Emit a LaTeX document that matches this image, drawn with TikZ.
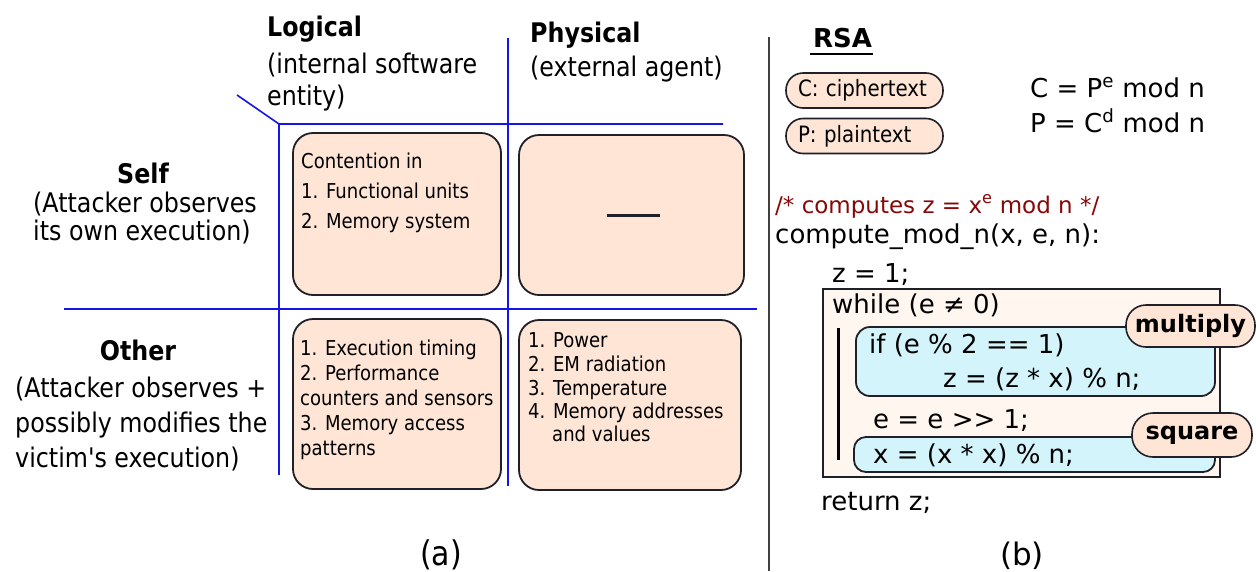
\documentclass[tikz,border=0pt]{standalone}
\usepackage{fontspec}
\setmainfont{DejaVu Sans}
\newfontfamily\dvsans{DejaVu Sans}
\newfontfamily\narrowsans{DejaVu Sans}[FakeStretch=0.88]
\definecolor{gridblue}{RGB}{20,20,235}
\definecolor{peach}{RGB}{254,229,214}
\definecolor{paleskin}{RGB}{255,246,240}
\definecolor{icecyan}{RGB}{212,244,252}
\definecolor{inkline}{RGB}{32,32,40}
\definecolor{commentred}{RGB}{135,8,8}
\tikzset{
  fsz/.style={font=\dvsans\fontsize{#1}{#1}\selectfont},
  bfsz/.style={font=\dvsans\bfseries\fontsize{#1}{#1}\selectfont},
  nsz/.style={font=\narrowsans\fontsize{#1}{#1}\selectfont},
  bnsz/.style={font=\narrowsans\bfseries\fontsize{#1}{#1}\selectfont},
  ln/.style={anchor=base west, inner sep=0pt},
  lnc/.style={anchor=base, inner sep=0pt},
  gridline/.style={draw=gridblue, line width=1.6pt},
  cell/.style={draw=inkline, fill=peach, line width=1.8pt, rounded corners=20pt, inner sep=0pt},
  tag/.style={draw=inkline, fill=peach, line width=1.6pt, rounded corners=17pt,
              text width=133pt, inner xsep=12pt, inner ysep=0pt, minimum height=35pt, align=left, nsz=22.5},
  badge/.style={draw=inkline, fill=peach, line width=1.6pt, rounded corners=20pt,
                inner sep=0pt, bfsz=24},
  codebox/.style={draw=inkline, fill=icecyan, line width=1.8pt, rounded corners=14pt, inner sep=0pt},
}
\begin{document}
\begin{tikzpicture}[x=1pt,y=-1pt]
\useasboundingbox (0,0) rectangle (1256,571);

% ---------- (a): classification grid ----------
\coordinate (gc) at (279,124);
\coordinate (gd) at (237,95);
\coordinate (gtr) at (723,124);
\coordinate (gbl) at (279,475);
\coordinate (mt) at (508,38);
\coordinate (mb) at (508,486);
\coordinate (hl) at (64,309);
\coordinate (hr) at (757,309);
\draw[gridline] (gd) -- (gc) -- (gtr);
\draw[gridline] (gc) -- (gbl);
\draw[gridline] (mt) -- (mb);
\draw[gridline] (hl) -- (hr);

% column headings
\node[ln,bnsz=27] (logical) at (267,36) {Logical};
\node[ln,nsz=27] (logical2) at (267,73) {(internal software};
\node[ln,nsz=27] (logical3) at (267,105) {entity)};
\node[ln,bnsz=27] (physical) at (530,42) {Physical};
\node[ln,nsz=27] (physical2) at (530,76) {(external agent)};

% row headings
\node[lnc,bnsz=27] (self) at (143,183) {Self};
\node[ln,nsz=27] (self2) at (33,212) {(Attacker observes};
\node[ln,nsz=27] (self3) at (33,240) {its own execution)};
\node[lnc,bnsz=27] (other) at (138,360) {Other};
\node[ln,nsz=27] (other2) at (15,397) {(Attacker observes +};
\node[ln,nsz=27] (other3) at (15,432) {possibly modifies the};
\node[ln,nsz=27] (other4) at (15,467) {victim's execution)};

% cells
\node[cell, minimum width=208pt, minimum height=162pt] (c11) at (397,214) {};
\node[cell, minimum width=225pt, minimum height=160pt] (c12) at (631.5,215) {};
\node[cell, minimum width=208pt, minimum height=170pt] (c21) at (397,404) {};
\node[cell, minimum width=222pt, minimum height=170pt] (c22) at (630,405) {};

\node[ln,nsz=20.5] (c11a) at (301,168) {Contention in};
\node[ln,nsz=20.5] (c11b) at (301,198) {1. Functional units};
\node[ln,nsz=20.5] (c11c) at (301,228) {2. Memory system};

\coordinate (dashl) at (607,215);
\coordinate (dashr) at (660,215);
\draw[inkline, line width=3pt] (dashl) -- (dashr);

\node[ln,nsz=20.5] (c21a) at (300,355) {1. Execution timing};
\node[ln,nsz=20.5] (c21b) at (300,380) {2. Performance};
\node[ln,nsz=20.5] (c21c) at (300,405) {counters and sensors};
\node[ln,nsz=20.5] (c21d) at (300,430) {3. Memory access};
\node[ln,nsz=20.5] (c21e) at (300,455) {patterns};

\node[ln,nsz=20.5] (c22a) at (528,347) {1. Power};
\node[ln,nsz=20.5] (c22b) at (528,371) {2. EM radiation};
\node[ln,nsz=20.5] (c22c) at (528,395) {3. Temperature};
\node[ln,nsz=20.5] (c22d) at (528,418) {4. Memory addresses};
\node[ln,nsz=20.5] (c22e) at (552,441) {and values};

\node[lnc,nsz=34] (capa) at (441,565) {(a)};

% ---------- separator ----------
\coordinate (sept) at (769,37);
\coordinate (sepb) at (769,571);
\draw[black!75, line width=1.5pt] (sept) -- (sepb);

% ---------- (b): RSA modular exponentiation ----------
\node[ln,bfsz=26] (rsa) at (813,47) {RSA};
\draw[black, line width=1.5pt] ([xshift=-3pt,yshift=-7pt]rsa.base west) -- ([xshift=1pt,yshift=-7pt]rsa.base east);

\node[tag] (ctag) at (864.5,90.5) {C: ciphertext};
\node[tag] (ptag) at (864.5,136) {P: plaintext};

\node[ln,fsz=26] (enc) at (1030,97) {C = P\textsuperscript{e} mod n};
\node[ln,fsz=26] (dec) at (1030,132) {P = C\textsuperscript{d} mod n};

\node[ln,fsz=23,text=commentred] (cmt) at (775,213) {/* computes z = x\textsuperscript{e} mod n */};
\node[ln,fsz=26] (fn) at (775,243) {compute\_mod\_n(x, e, n):};
\node[ln,fsz=26] (init) at (832,282) {z = 1;};

\node[draw=inkline, fill=paleskin, line width=1.6pt, minimum width=397pt, minimum height=188pt, inner sep=0pt] (loop) at (1021.5,383) {};
\node[ln,fsz=26] (whl) at (832,313) {while (e ≠ 0)};
\coordinate (bart) at (838,328);
\coordinate (barb) at (838,460);
\draw[black, line width=3pt] (bart) -- (barb);

\node[codebox, minimum width=359pt, minimum height=69pt] (mulbox) at (1035.5,361.5) {};
\node[ln,fsz=26] (ifl) at (869,353) {if (e \% 2 == 1)};
\node[ln,fsz=26] (mull) at (943,387) {z = (z * x) \% n;};

\node[ln,fsz=26] (shift) at (873,428) {e = e >> 1;};
\node[codebox, rounded corners=12pt, minimum width=361pt, minimum height=35pt] (sqbox) at (1034.5,454.5) {};
\node[ln,fsz=26] (sql) at (873,463) {x = (x * x) \% n;};

\node[badge, minimum width=129pt, minimum height=42pt] (multiply) at (1190.5,326) {multiply};
\node[badge, minimum width=120pt, minimum height=44pt, rounded corners=21pt] (square) at (1192,435) {square};

\node[ln,fsz=26] (ret) at (821,510) {return z;};

\node[lnc,fsz=31] (capb) at (1022,565) {(b)};
\end{tikzpicture}
\end{document}
